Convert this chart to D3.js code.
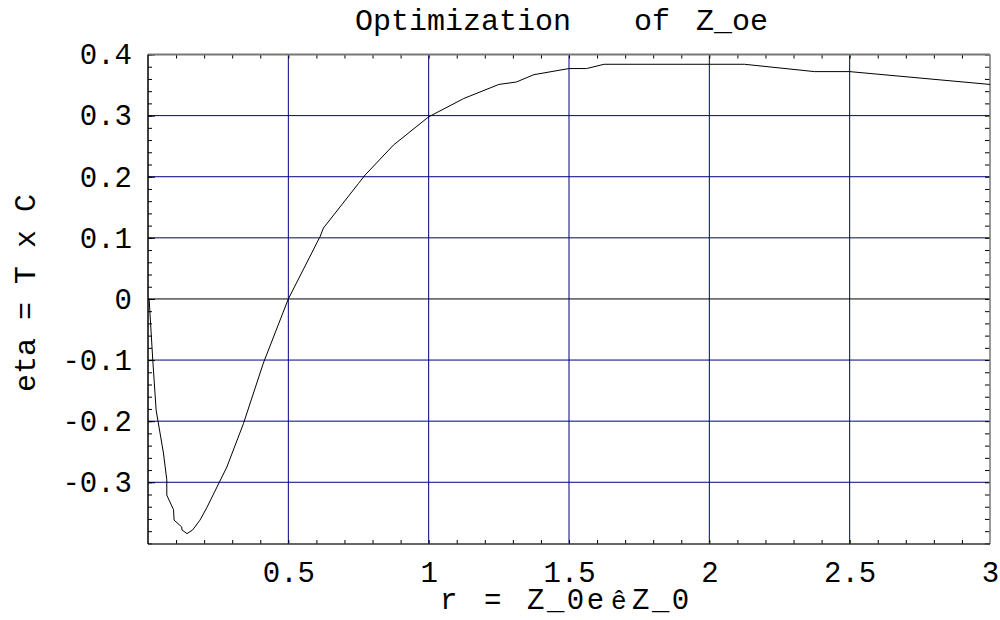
<!DOCTYPE html>
<html>
<head>
<meta charset="utf-8">
<script src="https://cdn.jsdelivr.net/npm/d3@7"></script>
<style>
  body { margin: 0; background: #fff; }
  text { font-family: "Courier New", Courier, "Liberation Mono", monospace; fill: #000; }
</style>
</head>
<body>
<div id="chart"></div>
<script>
// Data
const rValues = [0.004, 0.007, 0.017, 0.029, 0.055, 0.067, 0.067, 0.091, 0.093, 0.12, 0.121, 0.139,
  0.159, 0.185, 0.209, 0.281, 0.34, 0.411, 0.5, 0.613, 0.625, 0.75, 0.774, 0.875, 1.0,
  1.125, 1.25, 1.3125, 1.375, 1.5, 1.5625, 1.625, 2.125, 2.375, 2.5, 3.0];
const etaValues = [0.0, -0.023, -0.1, -0.182, -0.252, -0.296, -0.321, -0.345, -0.362, -0.373, -0.378, -0.384,
  -0.378, -0.362, -0.342, -0.275, -0.204, -0.105, 0.0, 0.102, 0.116, 0.189, 0.203, 0.252, 0.298,
  0.328, 0.351, 0.355, 0.367, 0.377, 0.377, 0.384, 0.384, 0.372, 0.372, 0.351];
const xTickLabels = [0.5, 1, 1.5, 2, 2.5, 3];
const yTickLabels = [-0.3, -0.2, -0.1, 0, 0.1, 0.2, 0.3, 0.4];
const xMinorTicks = d3.range(1, 30).map(i => i / 10);
const yMinorTicks = d3.range(-20, 21).map(i => i / 50);

const width = 1000, height = 620;
const margin = {top: 54.5, right: 10, bottom: 76, left: 148};

const svg = d3.select("#chart").append("svg")
    .attr("width", width)
    .attr("height", height);

const x = d3.scaleLinear().domain([0, 3]).range([margin.left, width - margin.right]);
const y = d3.scaleLinear().domain([-0.401, 0.4]).range([height - margin.bottom, margin.top]);

const fmt = d => d === 0 ? "0" : String(d);

// Grid lines
svg.append("g")
    .selectAll("line")
    .data(xTickLabels.filter(d => d < 3))
    .enter().append("line")
    .attr("x1", d => x(d)).attr("x2", d => x(d))
    .attr("y1", y(-0.401)).attr("y2", y(0.4))
    .attr("stroke", "#000080");
svg.append("g")
    .selectAll("line")
    .data(yTickLabels.filter(d => d < 0.4))
    .enter().append("line")
    .attr("x1", x(0)).attr("x2", x(3))
    .attr("y1", d => y(d)).attr("y2", d => y(d))
    .attr("stroke", d => d === 0 ? "#000" : "#000080");

// Inward ticks on all four sides
const frameB = y(-0.401), frameT = y(0.4), frameL = x(0), frameR = x(3);
const tickG = svg.append("g");
tickG.append("g").attr("transform", "translate(0," + frameB + ")")
    .call(d3.axisBottom(x).tickValues(xMinorTicks).tickSize(-4).tickFormat(""))
    .call(g => g.select(".domain").remove());
tickG.append("g").attr("transform", "translate(0," + frameT + ")")
    .call(d3.axisTop(x).tickValues(xMinorTicks).tickSize(-4).tickFormat(""))
    .call(g => g.select(".domain").remove());
tickG.append("g").attr("transform", "translate(" + frameL + ",0)")
    .call(d3.axisLeft(y).tickValues(yMinorTicks).tickSize(-4).tickFormat(""))
    .call(g => g.select(".domain").remove());
tickG.append("g").attr("transform", "translate(" + frameR + ",0)")
    .call(d3.axisRight(y).tickValues(yMinorTicks).tickSize(-5).tickFormat(""))
    .call(g => g.select(".domain").remove());
tickG.append("g").attr("transform", "translate(" + frameL + ",0)")
    .call(d3.axisLeft(y).tickValues(yTickLabels).tickSize(-7).tickFormat(""))
    .call(g => g.select(".domain").remove());
tickG.selectAll(".tick line").attr("stroke", "#000");

// Frame
svg.append("line").attr("x1", frameL).attr("x2", frameR).attr("y1", frameT).attr("y2", frameT)
    .attr("stroke", "#777").attr("stroke-width", 2);
svg.append("line").attr("x1", frameR).attr("x2", frameR).attr("y1", frameT).attr("y2", frameB)
    .attr("stroke", "#777").attr("stroke-width", 1.5);
svg.append("line").attr("x1", frameL).attr("x2", frameR).attr("y1", frameB).attr("y2", frameB)
    .attr("stroke", "#333").attr("stroke-width", 1.5);
svg.append("line").attr("x1", frameL).attr("x2", frameL).attr("y1", frameT).attr("y2", frameB)
    .attr("stroke", "#000").attr("stroke-width", 1.5);

// Tick labels
const xAxis = svg.append("g").attr("transform", "translate(0," + frameB + ")")
    .call(d3.axisBottom(x).tickValues(xTickLabels).tickSize(0).tickPadding(17).tickFormat(fmt));
xAxis.select(".domain").remove();
xAxis.selectAll("text").attr("font-size", 29).attr("font-family", null).attr("dy", "0.71em");

const yAxis = svg.append("g").attr("transform", "translate(" + frameL + ",0)")
    .call(d3.axisLeft(y).tickValues(yTickLabels).tickSize(0).tickPadding(16).tickFormat(fmt));
yAxis.select(".domain").remove();
yAxis.selectAll("text").attr("font-size", 29).attr("font-family", null);

// Curve
const points = rValues.map((r, i) => [r, etaValues[i]]);
svg.append("path")
    .datum(points)
    .attr("fill", "none")
    .attr("stroke", "#000")
    .attr("stroke-width", 1)
    .attr("d", d3.line().x(d => x(d[0])).y(d => y(d[1])));

// Plot title
const title = svg.append("g").attr("font-size", 30);
title.append("text").attr("x", 355).attr("y", 30).text("Optimization");
title.append("text").attr("x", 634).attr("y", 30).text("of");
title.append("text").attr("x", 696).attr("y", 30).text("Z_oe");

// x axis title, set piece by piece like the original
const xTitle = svg.append("g").attr("font-size", 29);
xTitle.append("text").attr("x", 440).attr("y", 609).text("r");
xTitle.append("text").attr("x", 484).attr("y", 609).text("=");
xTitle.append("text").attr("x", 527).attr("y", 609).attr("letter-spacing", 2.5).text("Z_0e");
xTitle.append("text").attr("x", 611).attr("y", 609).attr("fill", "#666").attr("font-size", 26).text("ê");
xTitle.append("text").attr("x", 632).attr("y", 609).attr("letter-spacing", 2.5).text("Z_0");

// y axis title
svg.append("text")
    .attr("transform", "translate(35,293) rotate(-90)")
    .attr("text-anchor", "middle")
    .attr("font-size", 30)
    .attr("xml:space", "preserve")
    .text("eta = T x C");
</script>
</body>
</html>
